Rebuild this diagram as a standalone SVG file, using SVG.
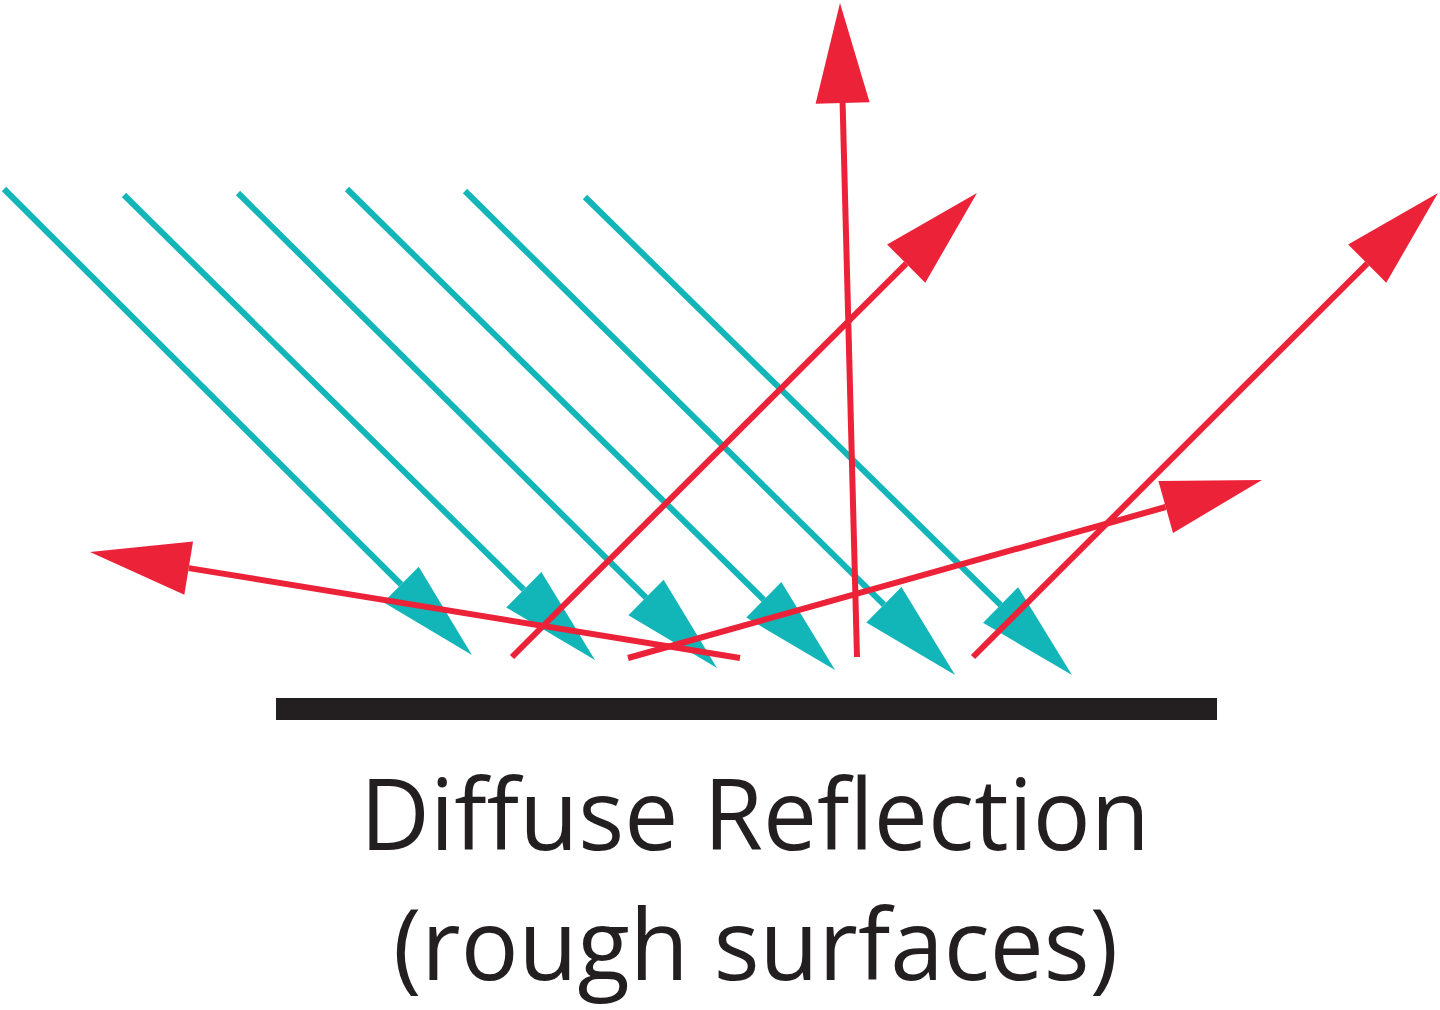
<svg xmlns="http://www.w3.org/2000/svg" width="1440" height="1010" viewBox="0 0 1440 1010">
  <style>
    .cyan { fill: none; stroke: #12B5B8; stroke-width: 6; marker-end: url(#arCyan); }
    .red { fill: none; stroke: #EC2239; stroke-width: 6; marker-end: url(#arRed); }
    .label { font-family: "Open Sans", "Liberation Sans", sans-serif; font-size: 98px; fill: #231F20; text-anchor: middle; }
  </style>
  <defs>
    <marker id="arCyan" markerUnits="userSpaceOnUse" markerWidth="100" markerHeight="54" viewBox="0 -27 100 54" refX="0" refY="0" orient="auto" overflow="visible">
      <path d="M0,-25 L100,0 L0,25 z" fill="#12B5B8"/>
    </marker>
    <marker id="arRed" markerUnits="userSpaceOnUse" markerWidth="100" markerHeight="56" viewBox="0 -28 100 56" refX="0" refY="0" orient="auto" overflow="visible">
      <path d="M0,-27 L100,0 L0,27 z" fill="#EC2239"/>
    </marker>
  </defs>
  <rect width="1440" height="1010" fill="#FFFFFF"/>

  <g id="surface">
    <rect x="276" y="698" width="941" height="22" fill="#231F20"/>
  </g>

  <g id="connectors">
    <g id="incident-rays">
      <path class="cyan" d="M4,189 L401.1,584.5"/>
      <path class="cyan" d="M124,195 L523.8,589.7"/>
      <path class="cyan" d="M238,193 L646,597.6"/>
      <path class="cyan" d="M347,189 L763.8,599.8"/>
      <path class="cyan" d="M465,191 L883.9,604.7"/>
      <path class="cyan" d="M585,197 L1000.6,605"/>
    </g>
    <g id="reflected-rays">
      <path class="red" d="M512,657 L906.2,263.6"/>
      <path class="red" d="M857,657 L842.6,103"/>
      <path class="red" d="M973,657 L1367.2,263.6"/>
      <path class="red" d="M628,658 L1165.7,507"/>
      <path class="red" d="M740,658 L188.7,568.1"/>
    </g>
  </g>

  <g id="caption">
    <text class="label" x="755" y="850" textLength="790" lengthAdjust="spacingAndGlyphs">Diffuse Reflection</text>
    <text class="label" x="755.5" y="980" textLength="725" lengthAdjust="spacingAndGlyphs">(rough surfaces)</text>
  </g>
</svg>
